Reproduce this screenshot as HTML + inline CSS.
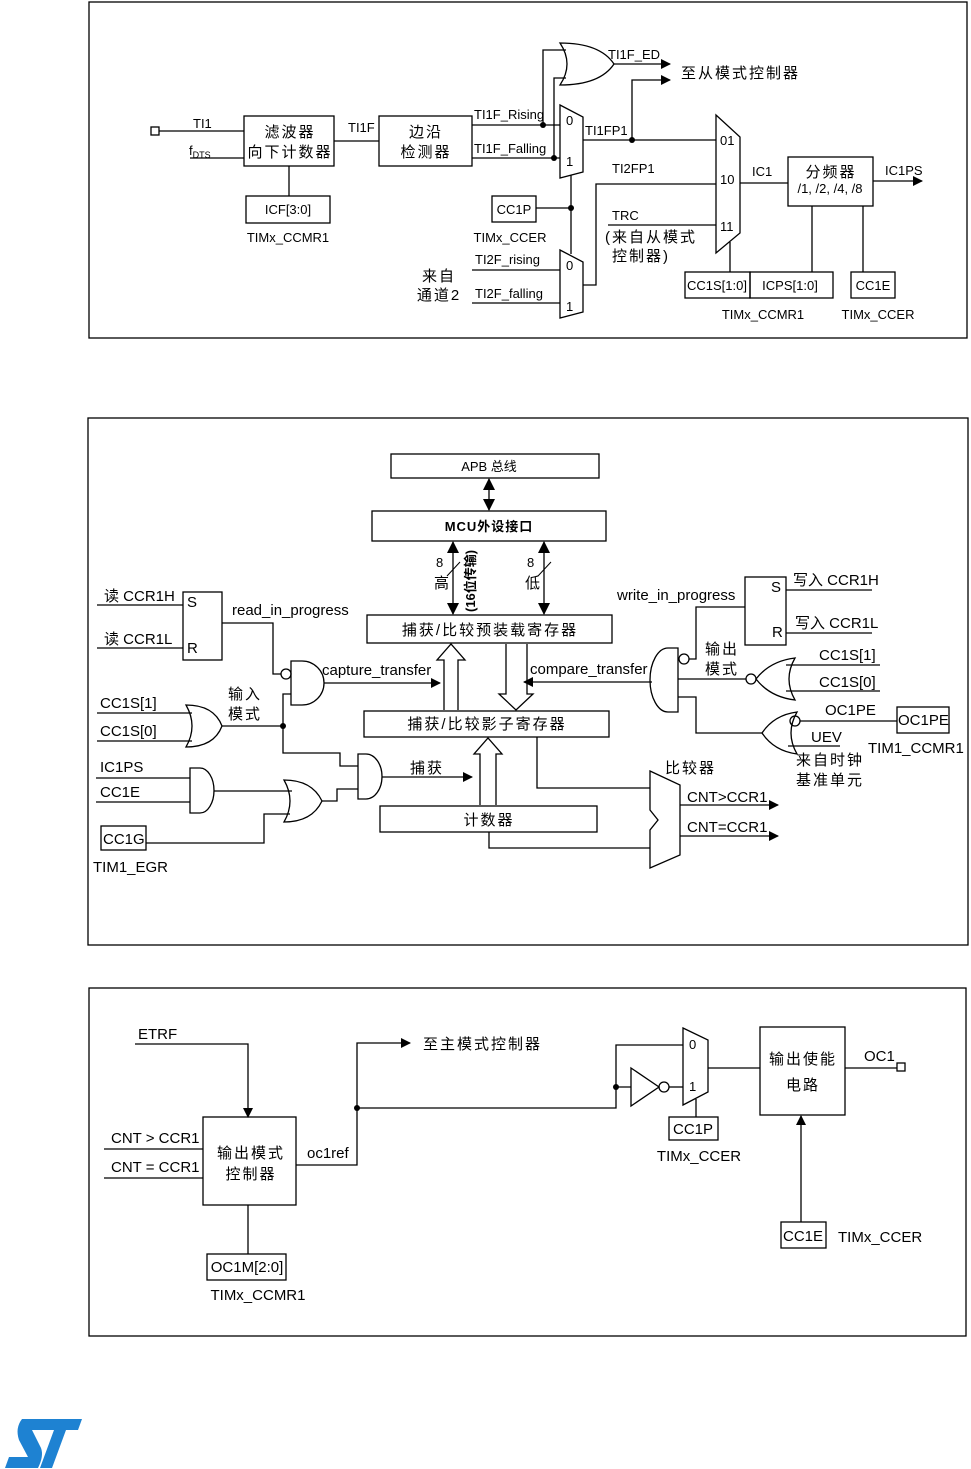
<!DOCTYPE html>
<html><head><meta charset="utf-8"><style>
html,body{margin:0;padding:0;background:#fff;}
svg{display:block;}
text{font-family:"Liberation Sans","Noto Sans CJK SC",sans-serif;font-size:13px;fill:#000;}
.c{font-size:15px;letter-spacing:2px;}
.m{text-anchor:middle;}
.e{font-size:15px;}
</style></head><body>
<svg width="971" height="1469" viewBox="0 0 971 1469" xmlns="http://www.w3.org/2000/svg">
<defs>
<marker id="a" markerWidth="10" markerHeight="10" refX="9" refY="5" orient="auto" markerUnits="userSpaceOnUse"><path d="M0,0 L10,5 L0,10 Z" fill="#000"/></marker>
<marker id="as" markerWidth="12" markerHeight="12" refX="11" refY="6" orient="auto-start-reverse" markerUnits="userSpaceOnUse"><path d="M0,0 L12,6 L0,12 Z" fill="#000"/></marker>
</defs>
<g fill="none" stroke="#000" stroke-width="1.3">
<rect x="89" y="2" width="878" height="336"/>
<rect x="88" y="418" width="880" height="527"/>
<rect x="89" y="988" width="877" height="348"/>

<!-- ===== Panel 1 ===== -->
<rect x="151" y="127" width="8" height="8"/>
<path d="M159,131 H244 M190,158 H244"/>
<rect x="244" y="116" width="90" height="50"/>
<path d="M289,166 V196"/>
<rect x="246" y="196" width="84" height="27"/>
<path d="M334,141 H379"/>
<rect x="379" y="116" width="93" height="50"/>
<path d="M472,125 H560 M472,158 H560"/>
<path d="M543,125 V50 H566 M554,158 V78 H566"/>
<path d="M560,105 L583,117 V172 L560,178 Z"/>
<path d="M560,43 Q600,43 614,64 Q600,85 560,85 Q574,64 560,43 Z"/>
<path d="M614,64 H670" marker-end="url(#a)"/>
<path d="M632,140 V80 H670" marker-end="url(#a)"/>
<path d="M583,140 H716"/>
<path d="M571,175 V254"/>
<rect x="492" y="196" width="44" height="26"/>
<path d="M536,208 H571"/>
<path d="M560,250 L583,262 V312 L560,318 Z"/>
<path d="M472,270 H560 M472,303 H560"/>
<path d="M583,285 H596 V184 H716"/>
<path d="M608,225 H716"/>
<path d="M716,115 L740,137 V233 L716,253 Z"/>
<path d="M740,183 H788"/>
<rect x="788" y="157" width="85" height="49"/>
<path d="M873,181 H922" marker-end="url(#a)"/>
<path d="M730,242 V272 M812,206 V272 M863,206 V272"/>
<rect x="685" y="272" width="65" height="26"/>
<rect x="750" y="272" width="83" height="26"/>
<rect x="851" y="272" width="44" height="26"/>

<!-- ===== Panel 2 ===== -->
<rect x="391" y="454" width="208" height="24"/>
<path d="M489,479 V510" marker-start="url(#as)" marker-end="url(#as)"/>
<rect x="372" y="511" width="234" height="30"/>
<path d="M453,542 V614" marker-start="url(#as)" marker-end="url(#as)"/>
<path d="M544,542 V614" marker-start="url(#as)" marker-end="url(#as)"/>
<path d="M447,576 L460,562 M538,576 L551,562" stroke-width="1"/>
<rect x="367" y="615" width="245" height="28"/>
<rect x="364" y="711" width="245" height="26"/>
<rect x="380" y="806" width="217" height="26"/>
<path d="M444,710 V660 H437 L451,644 L465,660 H458 V710"/>
<path d="M506,644 V694 H499 L516,710 L533,694 H527 V644"/>
<path d="M480,805 V754 H474 L488,738 L502,754 H496 V805"/>
<rect x="183" y="592" width="39" height="68"/>
<path d="M97,605 H183 M97,648 H183"/>
<path d="M222,623 H273 V674 H281"/>
<circle cx="286" cy="674" r="5"/>
<path d="M291,661 H302 A22,22 0 0 1 302,705 H291 Z"/>
<path d="M324,683 H440" marker-end="url(#a)"/>
<path d="M186,705 Q214,705 222,726 Q214,747 186,747 Q198,726 186,705 Z"/>
<path d="M97,713 H192 M97,741 H192"/>
<path d="M222,726 H283 V694 H291 M283,726 V753 H340 V766 H358"/>
<path d="M96,778 H190 M96,802 H190"/>
<path d="M190,768 H200 A14,22.5 0 0 1 200,813 H190 Z"/>
<path d="M214,791 H292"/>
<path d="M284,780 Q312,780 322,801 Q312,822 284,822 Q296,801 284,780 Z"/>
<path d="M322,801 H337 V789 H358"/>
<path d="M358,754 H366 A16,22.5 0 0 1 366,799 H358 Z"/>
<path d="M382,777 H472" marker-end="url(#a)"/>
<rect x="101" y="826" width="45" height="24"/>
<path d="M146,843 H264 V814 H290"/>
<path d="M652,682 H524" marker-end="url(#a)"/>
<path d="M678,648 H668 A18,32 0 0 0 668,712 H678 Z"/>
<circle cx="684" cy="659" r="5"/>
<path d="M689,659 H696 V607 H745"/>
<rect x="745" y="577" width="41" height="68"/>
<path d="M786,590 H872 M786,633 H872"/>
<path d="M678,679 H746"/>
<circle cx="751" cy="679" r="5"/>
<path d="M795,658 Q770,661 756,679 Q770,697 795,700 Q783,679 795,658 Z"/>
<path d="M786,665 H880 M786,691 H880"/>
<path d="M678,697 H696 V733 H762"/>
<path d="M797,712 Q774,715 762,733 Q774,751 797,754 Q785,733 797,712 Z"/>
<circle cx="795" cy="721" r="5"/>
<path d="M800,721 H897"/>
<rect x="897" y="707" width="52" height="26"/>
<path d="M788,746 H840"/>
<path d="M650,771 L680,785 V855 L650,868 V830 L658,820 L650,810 Z"/>
<path d="M537,737 V788 H650 M489,832 V848 H650"/>
<path d="M680,805 H778" marker-end="url(#a)"/>
<path d="M680,836 H778" marker-end="url(#a)"/>

<!-- ===== Panel 3 ===== -->
<path d="M135,1044 H248 V1117" marker-end="url(#a)"/>
<rect x="203" y="1117" width="93" height="88"/>
<path d="M104,1149 H203 M104,1178 H203"/>
<path d="M248,1205 V1254"/>
<rect x="207" y="1254" width="79" height="26"/>
<path d="M296,1165 H357 V1043 H410" marker-end="url(#a)"/>
<path d="M357,1108 H616 V1045 H683 M616,1087 H631"/>
<path d="M631,1068 L659,1087 L631,1106 Z"/>
<circle cx="664" cy="1087" r="5"/>
<path d="M669,1087 H683"/>
<path d="M683,1028 L708,1040 V1092 L683,1105 Z"/>
<path d="M696,1099 V1117"/>
<rect x="669" y="1117" width="49" height="23"/>
<path d="M708,1068 H760"/>
<rect x="760" y="1027" width="85" height="88"/>
<path d="M845,1068 H897"/>
<rect x="897" y="1063" width="8" height="8"/>
<rect x="781" y="1222" width="45" height="26"/>
<path d="M801,1222 V1116" marker-end="url(#a)"/>
</g>
<g fill="#000">
<circle cx="543" cy="125" r="3"/><circle cx="554" cy="158" r="3"/>
<circle cx="632" cy="140" r="3"/><circle cx="571" cy="208" r="3"/>
<circle cx="283" cy="726" r="3"/>
<circle cx="357" cy="1108" r="3"/><circle cx="616" cy="1087" r="3"/>
</g>

<!-- Text panel 1 -->
<text x="193" y="128">TI1</text>
<text x="189" y="155">f<tspan font-size="9" dy="3">DTS</tspan></text>
<text class="c m" x="290" y="137">滤波器</text>
<text class="c m" x="290" y="157">向下计数器</text>
<text class="m" x="288" y="214">ICF[3:0]</text>
<text class="m" x="288" y="242">TIMx_CCMR1</text>
<text x="348" y="132">TI1F</text>
<text class="c m" x="426" y="137">边沿</text>
<text class="c m" x="426" y="157">检测器</text>
<text x="474" y="119" font-size="12">TI1F_Rising</text>
<text x="474" y="153" font-size="12">TI1F_Falling</text>
<text x="566" y="125" font-size="12">0</text>
<text x="566" y="166" font-size="12">1</text>
<text x="608" y="59" font-size="12">TI1F_ED</text>
<text class="c" x="681" y="78">至从模式控制器</text>
<text x="585" y="135" font-size="12">TI1FP1</text>
<text x="612" y="173" font-size="12">TI2FP1</text>
<text x="612" y="220" font-size="12">TRC</text>
<text class="c" x="605" y="242">(来自从模式</text>
<text class="c" x="612" y="261">控制器)</text>
<text x="720" y="145" font-size="12">01</text>
<text x="720" y="184" font-size="12">10</text>
<text x="720" y="231" font-size="12">11</text>
<text x="752" y="176" font-size="12">IC1</text>
<text class="c m" x="831" y="177">分频器</text>
<text class="m" x="830" y="193" font-size="12">/1, /2, /4, /8</text>
<text x="885" y="175" font-size="12">IC1PS</text>
<text class="m" x="514" y="214">CC1P</text>
<text class="m" x="510" y="242" font-size="12">TIMx_CCER</text>
<text x="475" y="264" font-size="12">TI2F_rising</text>
<text x="475" y="298" font-size="12">TI2F_falling</text>
<text x="566" y="270" font-size="12">0</text>
<text x="566" y="311" font-size="12">1</text>
<text class="c m" x="439" y="281">来自</text>
<text class="c m" x="439" y="300">通道2</text>
<text class="m" x="717" y="290" font-size="12">CC1S[1:0]</text>
<text class="m" x="790" y="290" font-size="12">ICPS[1:0]</text>
<text class="m" x="873" y="290" font-size="12">CC1E</text>
<text class="m" x="763" y="319" font-size="12">TIMx_CCMR1</text>
<text class="m" x="878" y="319" font-size="12">TIMx_CCER</text>

<!-- Text panel 2 -->
<text class="m" x="489" y="471" font-size="14">APB 总线</text>
<text class="m" x="489" y="531" font-size="15" font-weight="bold" letter-spacing="1">MCU外设接口</text>
<text x="436" y="567" font-size="14">8</text>
<text x="434" y="588" class="c">高</text>
<text x="527" y="567" font-size="14">8</text>
<text x="525" y="588" class="c">低</text>
<text transform="translate(475,612) rotate(-90)" font-size="12" font-weight="bold">(16位传输)</text>
<text class="c m" x="490" y="635">捕获/比较预装载寄存器</text>
<text class="c m" x="487" y="729">捕获/比较影子寄存器</text>
<text class="c m" x="489" y="825">计数器</text>
<text class="e" x="104" y="601">读 CCR1H</text>
<text class="e" x="104" y="644">读 CCR1L</text>
<text class="e" x="187" y="607">S</text>
<text class="e" x="187" y="653">R</text>
<text class="e" x="232" y="615">read_in_progress</text>
<text class="e" x="322" y="675">capture_transfer</text>
<text class="c" x="228" y="699">输入</text>
<text class="c" x="228" y="719">模式</text>
<text class="e" x="100" y="708">CC1S[1]</text>
<text class="e" x="100" y="736">CC1S[0]</text>
<text class="e" x="100" y="772">IC1PS</text>
<text class="e" x="100" y="797">CC1E</text>
<text class="c" x="410" y="773">捕获</text>
<text class="e" x="103" y="844">CC1G</text>
<text class="e" x="93" y="872">TIM1_EGR</text>
<text class="e" x="530" y="674">compare_transfer</text>
<text class="e" x="617" y="600">write_in_progress</text>
<text class="e" x="771" y="592">S</text>
<text class="e" x="772" y="637">R</text>
<text class="e" x="793" y="585">写入 CCR1H</text>
<text class="e" x="795" y="628">写入 CCR1L</text>
<text class="c" x="705" y="654">输出</text>
<text class="c" x="705" y="674">模式</text>
<text class="e" x="819" y="660">CC1S[1]</text>
<text class="e" x="819" y="687">CC1S[0]</text>
<text class="e" x="825" y="715">OC1PE</text>
<text class="e" x="898" y="725">OC1PE</text>
<text class="e" x="811" y="742">UEV</text>
<text class="e" x="868" y="753">TIM1_CCMR1</text>
<text class="c" x="796" y="765">来自时钟</text>
<text class="c" x="796" y="785">基准单元</text>
<text class="c" x="665" y="773">比较器</text>
<text class="e" x="687" y="802">CNT&gt;CCR1</text>
<text class="e" x="687" y="832">CNT=CCR1</text>

<!-- Text panel 3 -->
<text class="e" x="138" y="1039">ETRF</text>
<text class="c" x="423" y="1049">至主模式控制器</text>
<text class="e" x="111" y="1143">CNT &gt; CCR1</text>
<text class="e" x="111" y="1172">CNT = CCR1</text>
<text class="c m" x="251" y="1158">输出模式</text>
<text class="c m" x="251" y="1179">控制器</text>
<text class="e" x="307" y="1158">oc1ref</text>
<text class="m e" x="247" y="1272">OC1M[2:0]</text>
<text class="m e" x="258" y="1300">TIMx_CCMR1</text>
<text x="689" y="1049" font-size="13">0</text>
<text x="689" y="1091" font-size="13">1</text>
<text class="m e" x="693" y="1134">CC1P</text>
<text class="m e" x="699" y="1161">TIMx_CCER</text>
<text class="c m" x="803" y="1064">输出使能</text>
<text class="c m" x="803" y="1090">电路</text>
<text class="e" x="864" y="1061">OC1</text>
<text class="m e" x="803" y="1241">CC1E</text>
<text class="e" x="838" y="1242">TIMx_CCER</text>

<!-- ST logo -->
<g fill="#1e82d2">
<path d="M45,1419 H82 L78,1430 H66 L52,1468 H40 L54,1430 H41 Z"/>
<path d="M22,1419 H48 L44,1430 H32 L41,1448 Q44,1456 38,1468 H5 L9,1457 H28 L19,1440 Q15,1428 22,1419 Z"/>
</g>
</svg>
</body></html>
